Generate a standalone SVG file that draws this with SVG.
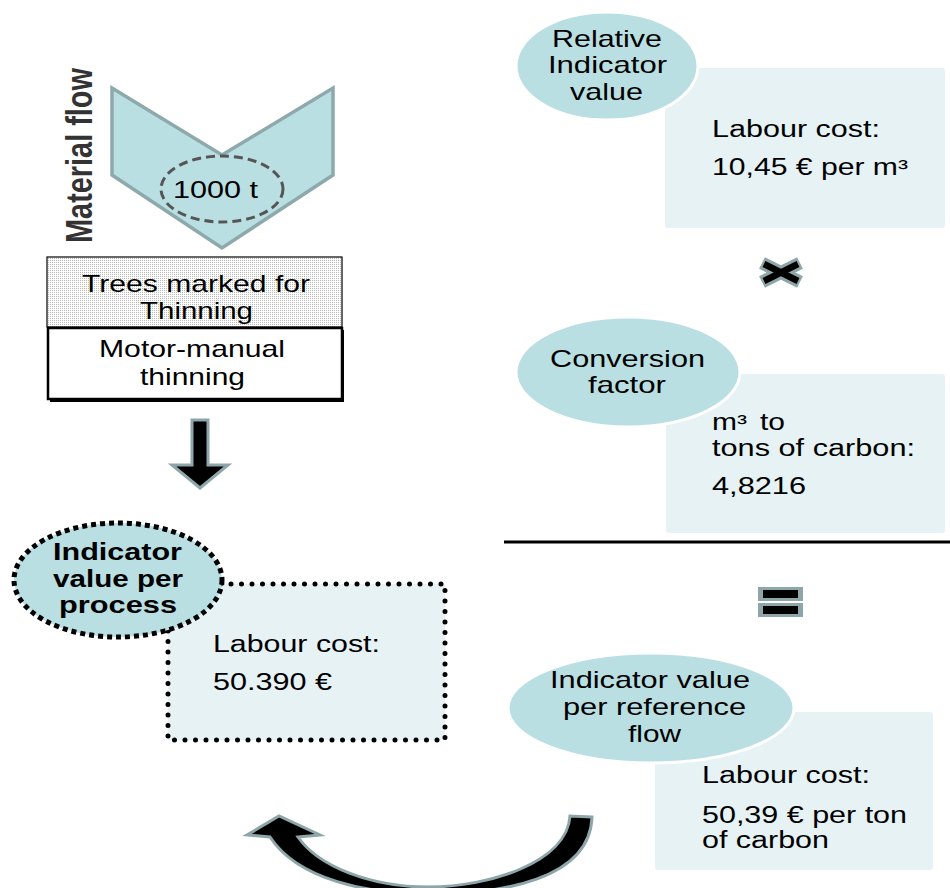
<svg xmlns="http://www.w3.org/2000/svg" width="950" height="888" viewBox="0 0 950 888">
  <defs>
    <pattern id="grain" width="2" height="2" patternUnits="userSpaceOnUse">
      <rect width="2" height="2" fill="#ffffff"/>
      <rect width="1" height="1" fill="#b8b8b8"/>
    </pattern>
    <style>
      text { font-family: "Liberation Sans", Arial, sans-serif; fill: #000; }
      .lbl { font-size: 24px; }
      .val { font-size: 23px; }
      .bold { font-size: 24px; font-weight: bold; }
      .bubble { fill: #b9dfe3; stroke: #ffffff; stroke-width: 3; }
      .card { fill: #e6f2f4; }
      .flow { fill: #000; stroke: #8ea6a9; stroke-width: 3; stroke-linejoin: miter; }
    </style>
  </defs>
  <rect width="950" height="888" fill="#ffffff"/>

  <!-- material flow chevron with quantity -->
  <g id="material-flow">
    <text class="bold" textLength="175" lengthAdjust="spacingAndGlyphs" transform="translate(92,243) scale(1.3,1) rotate(-90)" style="font-size:29px;fill:#333">Material flow</text>
    <polygon points="112,88 222,155 333,88 333,175 222,248 112,175" fill="#b9dfe3" stroke="#8ea9ab" stroke-width="3.5"/>
    <ellipse cx="222" cy="189" rx="61" ry="33" fill="none" stroke="#555" stroke-width="3" stroke-dasharray="9 5"/>
    <text class="lbl" x="173" y="198" textLength="85" lengthAdjust="spacingAndGlyphs">1000 t</text>
  </g>

  <!-- process boxes -->
  <g id="trees-marked">
    <rect x="47" y="257" width="295" height="70" fill="url(#grain)" stroke="#000" stroke-width="1.2"/>
    <text class="lbl" x="82" y="292" textLength="228" lengthAdjust="spacingAndGlyphs">Trees marked for</text>
    <text class="lbl" x="140" y="319" textLength="113" lengthAdjust="spacingAndGlyphs">Thinning</text>
  </g>
  <g id="motor-manual">
    <rect x="48" y="328" width="294" height="71" fill="#ffffff" stroke="#000" stroke-width="2.5"/>
    <path d="M343,330 L343,401 L50,401" fill="none" stroke="#000" stroke-width="2"/>
    <text class="lbl" x="99" y="357" textLength="186" lengthAdjust="spacingAndGlyphs">Motor-manual</text>
    <text class="lbl" x="140" y="385" textLength="105" lengthAdjust="spacingAndGlyphs">thinning</text>
  </g>

  <!-- result per process -->
  <g id="value-per-process">
    <rect x="168" y="584" width="277" height="156" fill="#e6f2f4" stroke="#000" stroke-width="5" stroke-linecap="round" stroke-dasharray="0 10.5"/>
    <ellipse cx="118" cy="580" rx="104" ry="57" fill="#b9dfe3" stroke="#000" stroke-width="5" stroke-dasharray="5 4"/>
    <text class="bold" x="53" y="560" textLength="129" lengthAdjust="spacingAndGlyphs">Indicator</text>
    <text class="bold" x="53" y="587" textLength="130" lengthAdjust="spacingAndGlyphs">value per</text>
    <text class="bold" x="59" y="613" textLength="118" lengthAdjust="spacingAndGlyphs">process</text>
    <text class="val" x="213" y="652" textLength="167" lengthAdjust="spacingAndGlyphs">Labour cost:</text>
    <text class="val" x="213" y="690" textLength="119" lengthAdjust="spacingAndGlyphs">50.390 €</text>
  </g>

  <!-- relative indicator value -->
  <g id="relative-indicator">
    <rect class="card" x="665" y="68" width="280" height="160" rx="3"/>
    <ellipse class="bubble" cx="607" cy="66" rx="91" ry="54"/>
    <text class="lbl" x="552" y="47" textLength="110" lengthAdjust="spacingAndGlyphs">Relative</text>
    <text class="lbl" x="548" y="73" textLength="119" lengthAdjust="spacingAndGlyphs">Indicator</text>
    <text class="lbl" x="570" y="100" textLength="73" lengthAdjust="spacingAndGlyphs">value</text>
    <text class="val" x="712" y="137" textLength="168" lengthAdjust="spacingAndGlyphs">Labour cost:</text>
    <text class="val" x="712" y="175" textLength="196" lengthAdjust="spacingAndGlyphs">10,45 € per m³</text>
  </g>

  <!-- multiplication sign -->
  <g id="times">
    <path d="M762,263 L800,282 M762,282 L800,263" stroke="#8ea6a9" stroke-width="13" fill="none"/>
    <path d="M764,264 L798,281 M764,281 L798,264" stroke="#000" stroke-width="6.5" fill="none"/>
  </g>

  <!-- conversion factor -->
  <g id="conversion-factor">
    <rect class="card" x="666" y="374" width="279" height="159" rx="3"/>
    <ellipse class="bubble" cx="628" cy="372" rx="112" ry="55"/>
    <text class="lbl" x="550" y="367" textLength="155" lengthAdjust="spacingAndGlyphs">Conversion</text>
    <text class="lbl" x="588" y="393" textLength="78" lengthAdjust="spacingAndGlyphs">factor</text>
    <text class="val" x="712" y="430" textLength="35" lengthAdjust="spacingAndGlyphs">m³</text>
    <text class="val" x="760" y="430" textLength="25" lengthAdjust="spacingAndGlyphs">to</text>
    <text class="val" x="712" y="456" textLength="203" lengthAdjust="spacingAndGlyphs">tons of carbon:</text>
    <text class="val" x="712" y="494" textLength="94" lengthAdjust="spacingAndGlyphs">4,8216</text>
  </g>

  <!-- result line and equals sign -->
  <g id="result-line">
    <line x1="504" y1="542" x2="950" y2="542" stroke="#000" stroke-width="3"/>
  </g>
  <g id="equals">
    <rect x="758" y="587" width="45" height="14" fill="#8ea6a9"/>
    <rect x="758" y="603" width="45" height="14" fill="#8ea6a9"/>
    <rect x="763" y="590" width="35" height="8" fill="#000"/>
    <rect x="763" y="606" width="35" height="8" fill="#000"/>
  </g>

  <!-- indicator value per reference flow -->
  <g id="value-per-reference-flow">
    <rect class="card" x="655" y="712" width="278" height="158" rx="3"/>
    <ellipse class="bubble" cx="651" cy="708" rx="143" ry="55"/>
    <text class="lbl" x="550" y="688" textLength="200" lengthAdjust="spacingAndGlyphs">Indicator value</text>
    <text class="lbl" x="563" y="715" textLength="183" lengthAdjust="spacingAndGlyphs">per reference</text>
    <text class="lbl" x="628" y="742" textLength="53" lengthAdjust="spacingAndGlyphs">flow</text>
    <text class="val" x="702" y="783" textLength="168" lengthAdjust="spacingAndGlyphs">Labour cost:</text>
    <text class="val" x="702" y="823" textLength="205" lengthAdjust="spacingAndGlyphs">50,39 € per ton</text>
    <text class="val" x="702" y="848" textLength="127" lengthAdjust="spacingAndGlyphs">of carbon</text>
  </g>

  <!-- connectors -->
  <g id="connectors">
    <polygon class="flow" points="192,420 208,420 208,465 228,465 200,488 172,465 192,465"/>
    <path class="flow" d="M592,817 L570,816 C567,862 490,887 428,887 C370,887 318,866 298,837 L320,835 L279,816 L247,835 L270,837 C298,880 368,894 430,894 C500,894 590,880 592,817 Z"/>
  </g>
</svg>
